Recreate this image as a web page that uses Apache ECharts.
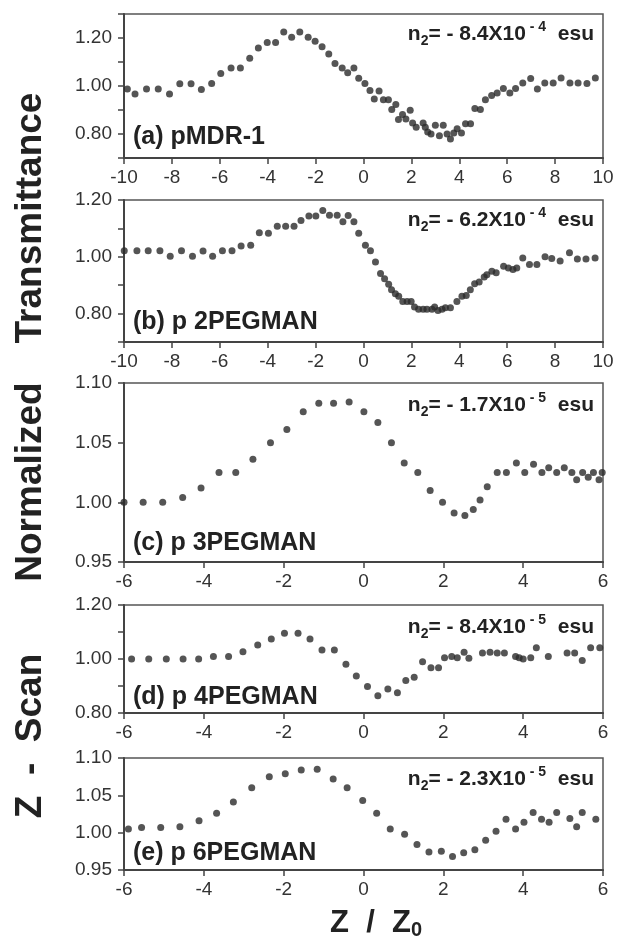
<!DOCTYPE html>
<html><head><meta charset="utf-8">
<script src="https://cdn.jsdelivr.net/npm/echarts@6/dist/echarts.min.js"></script>
<style>html,body{margin:0;padding:0;background:#fff}#c{width:617px;height:948px}</style>
</head><body><div id="c"></div>
<script>
// ---- data ----
const zA = [-9.86,-9.54,-9.06,-8.57,-8.10,-7.67,-7.20,-6.77,-6.34,-5.96,-5.53,-5.14,-4.75,-4.39,-4.02,-3.67,-3.33,-3.00,-2.66,-2.31,-2.02,-1.73,-1.45,-1.19,-0.89,-0.66,-0.40,-0.20,0.06,0.27,0.45,0.65,0.83,1.04,1.18,1.35,1.46,1.63,1.77,1.95,2.05,2.20,2.49,2.58,2.68,2.82,3.00,3.17,3.33,3.49,3.63,3.77,3.91,4.09,4.26,4.47,4.65,4.88,5.09,5.35,5.58,5.84,6.11,6.35,6.65,6.98,7.26,7.57,7.92,8.25,8.62,8.96,9.33,9.68];
const tA = [0.988,0.967,0.988,0.988,0.967,1.009,1.009,0.985,1.010,1.052,1.075,1.075,1.116,1.158,1.181,1.181,1.225,1.203,1.225,1.203,1.186,1.164,1.133,1.094,1.075,1.055,1.075,1.032,1.010,0.981,0.946,0.979,0.943,0.943,0.902,0.923,0.860,0.881,0.862,0.899,0.846,0.828,0.846,0.828,0.808,0.800,0.836,0.793,0.836,0.800,0.779,0.804,0.822,0.804,0.843,0.843,0.906,0.902,0.943,0.960,0.971,0.990,0.971,0.990,1.013,1.031,0.988,1.013,1.013,1.033,1.013,1.013,1.010,1.033];

const zB = [-9.99,-9.46,-8.99,-8.50,-8.07,-7.60,-7.14,-6.70,-6.30,-5.89,-5.49,-5.11,-4.71,-4.35,-3.97,-3.60,-3.25,-2.90,-2.61,-2.28,-1.99,-1.70,-1.42,-1.10,-0.86,-0.64,-0.40,-0.20,0.08,0.29,0.50,0.71,0.88,1.05,1.17,1.33,1.47,1.64,1.82,1.99,2.13,2.30,2.49,2.65,2.86,2.97,3.11,3.28,3.42,3.63,3.90,4.11,4.29,4.46,4.64,4.83,5.04,5.15,5.36,5.54,5.85,6.05,6.24,6.40,6.65,6.93,7.24,7.58,7.86,8.21,8.60,8.93,9.29,9.67];
const tB = [1.021,1.021,1.021,1.021,1.002,1.021,1.002,1.020,1.002,1.021,1.021,1.038,1.041,1.085,1.083,1.108,1.108,1.108,1.128,1.144,1.144,1.163,1.146,1.146,1.123,1.145,1.123,1.083,1.041,1.021,0.982,0.941,0.923,0.903,0.884,0.870,0.861,0.843,0.843,0.843,0.823,0.815,0.815,0.815,0.815,0.823,0.811,0.815,0.821,0.821,0.843,0.861,0.864,0.884,0.905,0.911,0.929,0.937,0.949,0.944,0.967,0.961,0.955,0.961,0.996,0.973,0.973,1.000,0.994,0.985,1.014,0.992,0.992,0.996];

const zC = [-6.00,-5.52,-5.03,-4.53,-4.07,-3.62,-3.20,-2.77,-2.33,-1.92,-1.51,-1.12,-0.75,-0.36,0.01,0.36,0.70,1.02,1.36,1.67,1.98,2.27,2.54,2.75,2.92,3.10,3.35,3.58,3.83,4.04,4.26,4.47,4.64,4.84,5.03,5.22,5.34,5.49,5.63,5.76,5.90,5.98];
const tC = [1.000,1.000,1.000,1.004,1.012,1.025,1.025,1.036,1.050,1.061,1.076,1.083,1.083,1.084,1.076,1.067,1.050,1.033,1.025,1.010,1.000,0.991,0.989,0.994,1.002,1.013,1.025,1.025,1.033,1.025,1.032,1.025,1.029,1.025,1.029,1.025,1.019,1.025,1.021,1.025,1.019,1.025];

const zD = [-5.81,-5.38,-4.94,-4.52,-4.13,-3.76,-3.38,-3.02,-2.65,-2.31,-1.98,-1.64,-1.34,-1.04,-0.73,-0.44,-0.18,0.10,0.36,0.61,0.85,1.06,1.27,1.48,1.69,1.88,2.03,2.21,2.35,2.52,2.64,2.98,3.17,3.35,3.53,3.81,3.90,4.00,4.19,4.33,4.63,5.10,5.29,5.48,5.69,5.92];
const tD = [1.000,1.000,1.000,1.000,1.000,1.009,1.009,1.027,1.052,1.074,1.095,1.095,1.074,1.033,1.033,0.981,0.937,0.898,0.864,0.889,0.875,0.920,0.932,0.990,0.968,0.968,1.005,1.009,1.005,1.025,1.003,1.022,1.025,1.022,1.022,1.009,1.005,1.000,1.005,1.042,1.009,1.022,1.022,0.994,1.042,1.042];

const zE = [-5.89,-5.56,-5.08,-4.60,-4.12,-3.68,-3.26,-2.80,-2.36,-1.96,-1.56,-1.16,-0.76,-0.41,-0.02,0.33,0.67,1.03,1.34,1.64,1.95,2.23,2.51,2.79,3.06,3.32,3.57,3.81,4.02,4.25,4.46,4.65,4.84,5.17,5.34,5.48,5.82];
const tE = [1.005,1.007,1.007,1.008,1.016,1.026,1.041,1.060,1.075,1.079,1.084,1.085,1.072,1.060,1.043,1.026,1.005,0.998,0.984,0.974,0.975,0.968,0.973,0.977,0.990,1.002,1.018,1.005,1.014,1.027,1.018,1.014,1.027,1.019,1.008,1.027,1.018];

const panelNames = ['(a) pMDR-1','(b) p 2PEGMAN','(c) p 3PEGMAN','(d) p 4PEGMAN','(e) p 6PEGMAN'];
const n2Mantissa = ['8.4X10','6.2X10','1.7X10','8.4X10','2.3X10'];
const n2Exponent = ['- 4','- 4','- 5','- 5','- 5'];
const xRanges = [[-10,10],[-10,10],[-6,6],[-6,6],[-6,6]];
const yRanges = [[0.7,1.3,0.1],[0.7,1.2,0.1],[0.95,1.10,0.05],[0.8,1.2,0.1],[0.95,1.10,0.05]];
const yTitles = ['Transmittance','Normalized','Z  -  Scan'];
const xTitle = 'Z / Z';

// ---- layout ----
const F = '"Liberation Sans", Arial, Helvetica, sans-serif';
const gridBoxes = [{top:14,height:144},{top:200,height:142},{top:383,height:179},{top:605,height:108},{top:758,height:112}];
const GL = 124, GW = 479;
const zs = [zA,zB,zC,zD,zE], ts = [tA,tB,tC,tD,tE];

const grid = [], xAxis = [], yAxis = [], series = [], graphic = [];
gridBoxes.forEach((g,i)=>{
  grid.push({left:GL, width:GW, top:g.top, height:g.height, show:true, borderColor:'#555', borderWidth:1.5, backgroundColor:'transparent'});
  xAxis.push({gridIndex:i, type:'value', min:xRanges[i][0], max:xRanges[i][1], interval:2,
    axisLine:{onZero:false, lineStyle:{color:'#444', width:2}},
    axisTick:{show:true, inside:false, length:6, lineStyle:{color:'#444', width:1.5}},
    axisLabel:{fontSize:19, color:'#333', fontFamily:F, margin:10},
    splitLine:{show:false}});
  const yr = yRanges[i];
  yAxis.push({gridIndex:i, type:'value', min:yr[0], max:yr[1], interval:yr[2],
    axisLine:{show:true, onZero:false, lineStyle:{color:'#444', width:2}},
    axisTick:{show:true, inside:false, length:6, lineStyle:{color:'#444', width:1.5}},
    axisLabel:{fontSize:19, color:'#333', fontFamily:F, margin:12,
      formatter:(v)=>{ if (yr[2]===0.1 && Math.round(v*10)%2!==0) return ''; if (v>yr[1]+1e-9) return ''; return v.toFixed(2);} },
    splitLine:{show:false}});
  series.push({type:'scatter', xAxisIndex:i, yAxisIndex:i, symbol:'circle', symbolSize:7,
    itemStyle:{color:'#2b2b2b'}, data: zs[i].map((z,k)=>[z, ts[i][k]]), animation:false});
  const labY = [137,322,543,697,853][i];
  graphic.push({type:'text', x:133, y:labY, style:{text:panelNames[i], fontSize:25, fontWeight:'bold', fontFamily:F, fill:'#222', align:'left', verticalAlign:'middle'}});
  const nY = [34,220,405,627,779][i];
  graphic.push({type:'text', x:594, y:nY, style:{
    text:'{n|n}{sb|2}{n|= - '+n2Mantissa[i]+'}{sp| '+n2Exponent[i]+'}{n|  esu}',
    align:'right', verticalAlign:'middle',
    rich:{
      n:{fontSize:21, fontWeight:'bold', fontFamily:F, fill:'#222', lineHeight:28, verticalAlign:'middle'},
      sb:{fontSize:14, fontWeight:'bold', fontFamily:F, fill:'#222', lineHeight:14, verticalAlign:'bottom'},
      sp:{fontSize:14, fontWeight:'bold', fontFamily:F, fill:'#222', lineHeight:14, verticalAlign:'top'}
    }}});
});
[[31,218],[31,482],[31,736]].forEach((p,i)=>{
  graphic.push({type:'text', x:p[0], y:p[1], rotation:Math.PI/2, style:{text:yTitles[i], fontSize:37, fontWeight:'bold', fontFamily:F, fill:'#222', align:'center', verticalAlign:'middle'}});
});
graphic.push({type:'text', x:376, y:923, style:{text:'{z|'+xTitle.replace(/ /g,'  ')+'}{s|0}', align:'center', verticalAlign:'middle',
  rich:{z:{fontSize:31, fontWeight:'bold', fontFamily:F, fill:'#222', lineHeight:34, verticalAlign:'middle'},
        s:{fontSize:20, fontWeight:'bold', fontFamily:F, fill:'#222', lineHeight:20, verticalAlign:'bottom'}}}});

const chart = echarts.init(document.getElementById('c'), null, {renderer:'canvas'});
chart.setOption({animation:false, backgroundColor:'#fff', grid, xAxis, yAxis, series, graphic});
</script></body></html>
